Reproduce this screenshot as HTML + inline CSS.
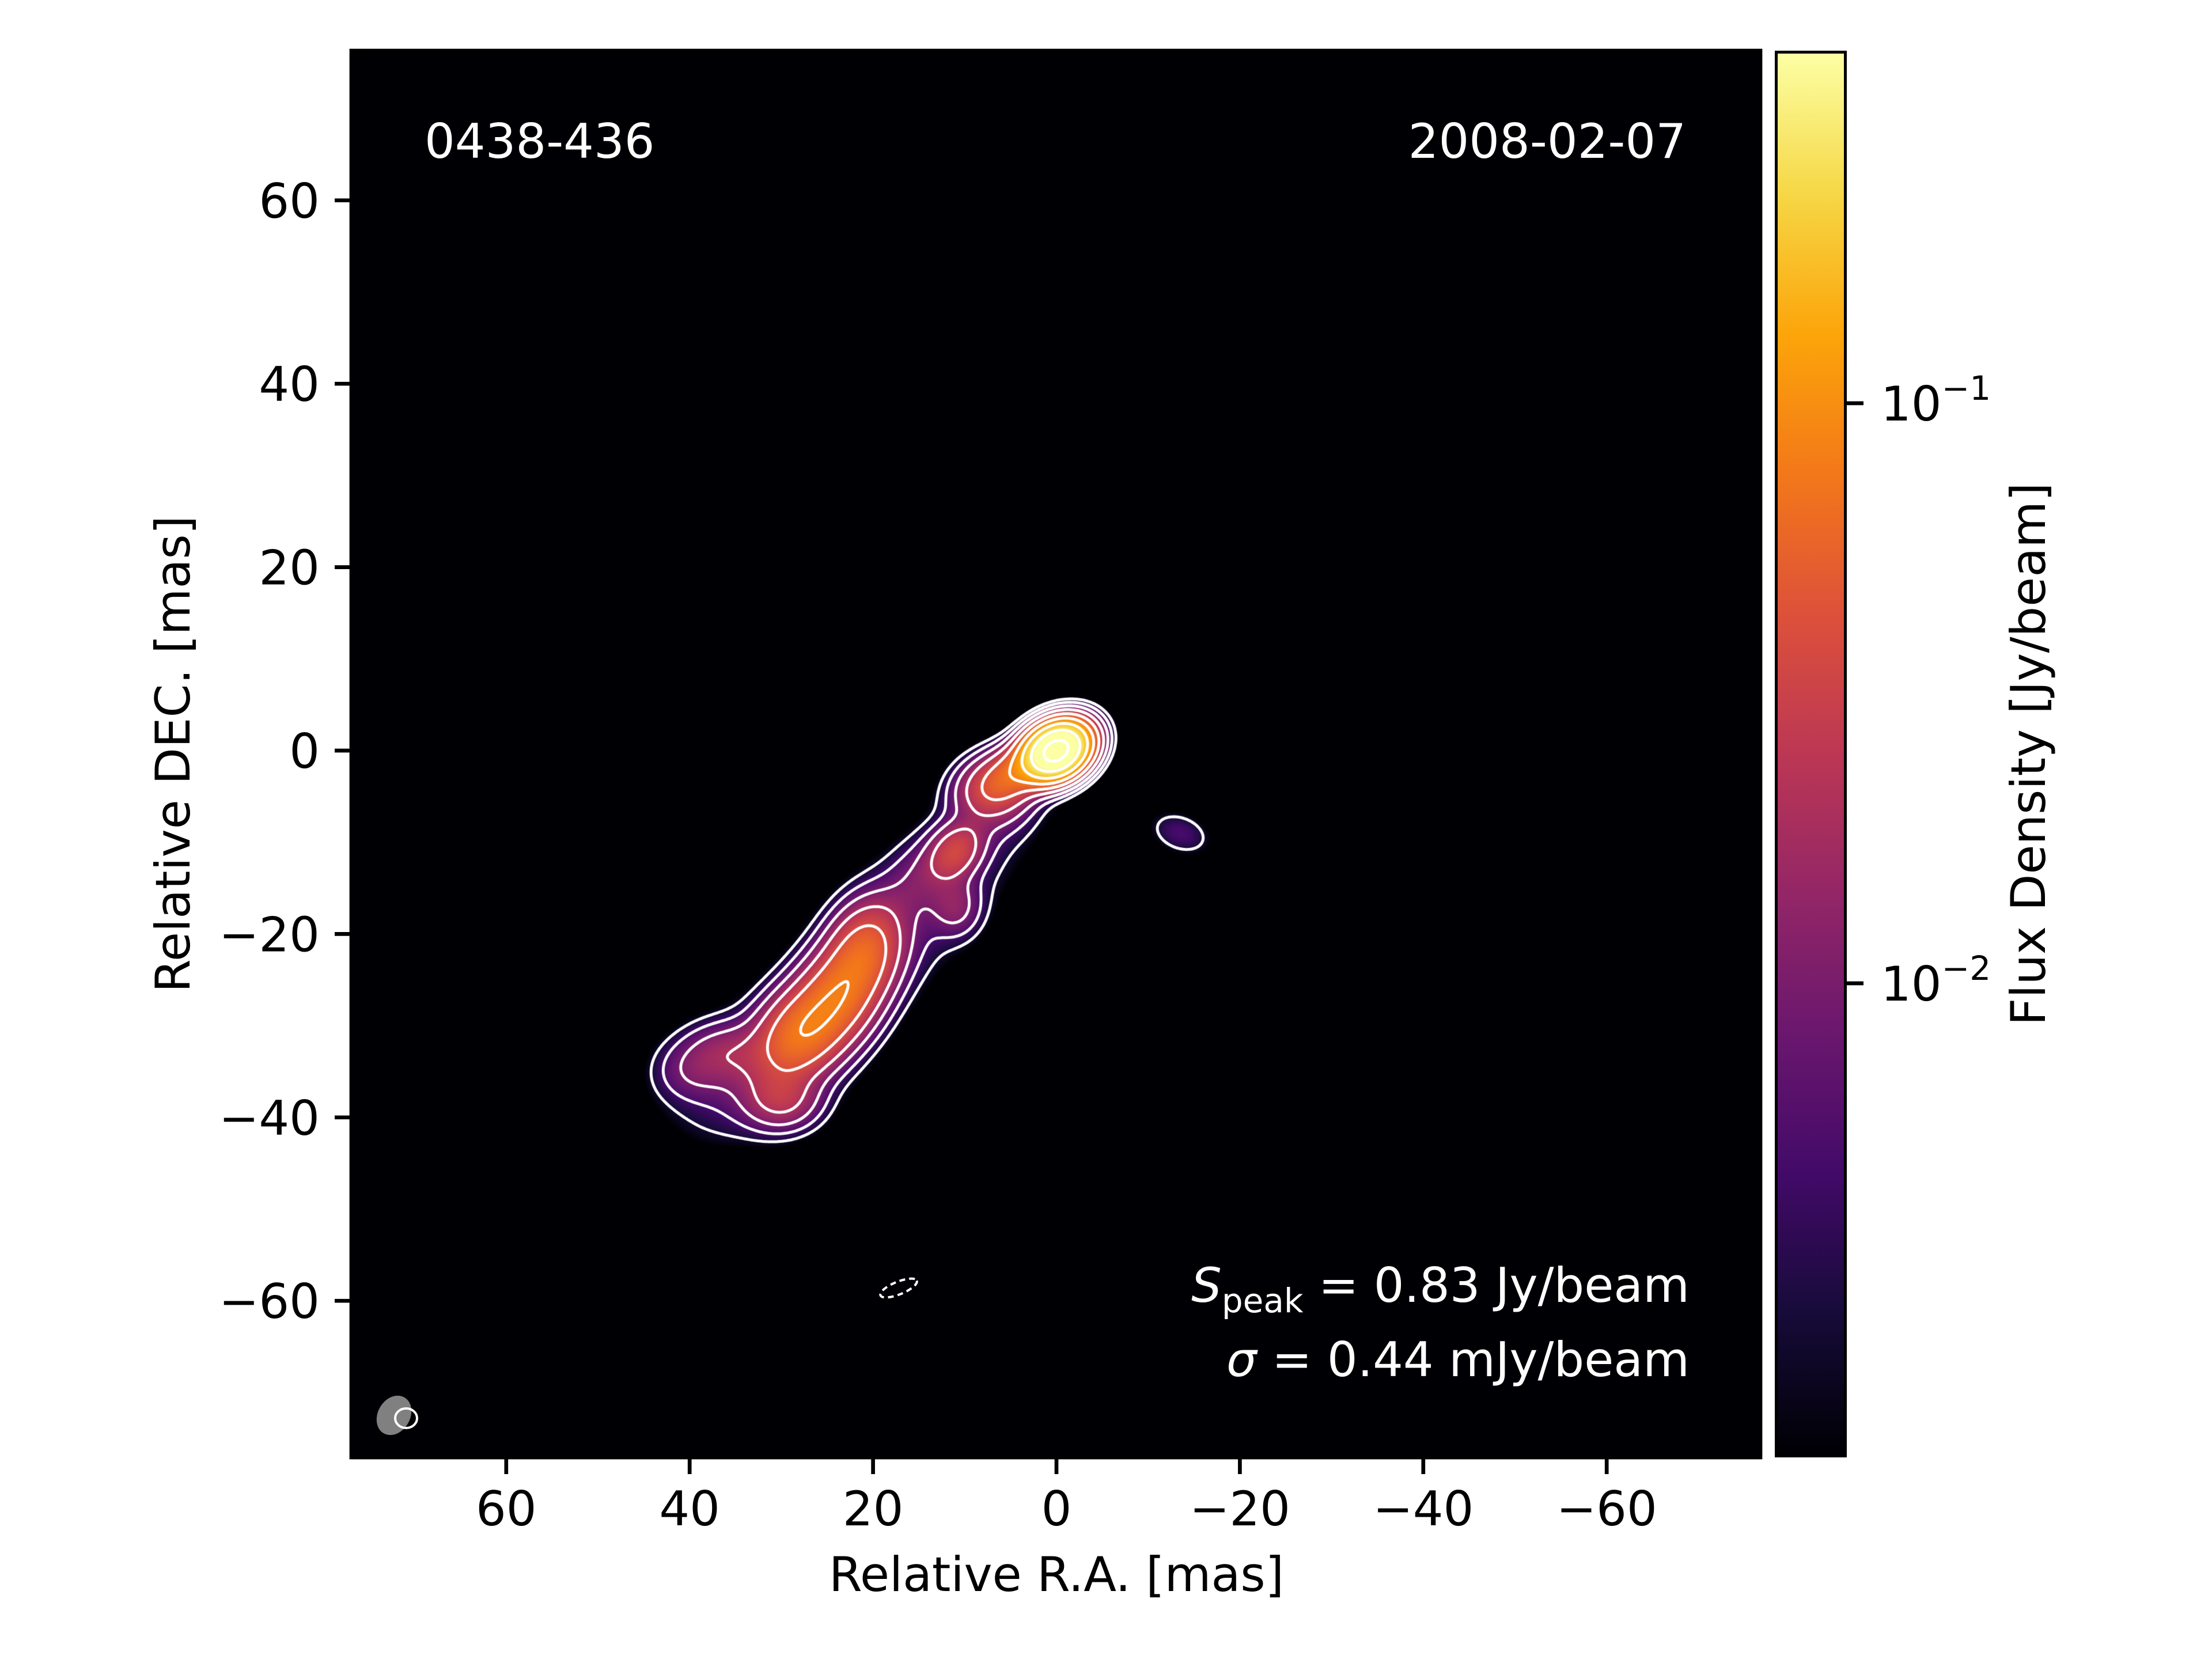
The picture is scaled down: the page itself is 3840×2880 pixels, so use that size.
<!DOCTYPE html>
<html><head><meta charset="utf-8">
<style>
html,body{margin:0;padding:0;background:#fff;}
#root{position:relative;width:3840px;height:2880px;overflow:hidden;background:#fff;font-family:"DejaVu Sans","Liberation Sans",sans-serif;}
canvas{position:absolute;}
svg{position:absolute;left:0;top:0;}
</style></head>
<body>
<div id="root">
<canvas id="img" style="left:610px;top:88px;width:2446px;height:2442px;" width="1223" height="1221"></canvas>
<canvas id="cont" style="left:610px;top:88px;width:2446px;height:2442px;" width="2446" height="2442"></canvas>
<div style="position:absolute;left:3081px;top:88px;width:125px;height:2442px;background:linear-gradient(to top,#000004 0%,#160b39 10%,#420a68 20%,#6a176e 30%,#932667 40%,#bc3754 50%,#dd513a 60%,#f37819 70%,#fca50a 80%,#f6d746 90%,#fcffa4 100%);box-sizing:border-box;border:5px solid #000;"></div>
<svg id="axes" width="3840" height="2880"></svg>
</div>
<script>
// ---- data ----
const compX    = [0, 4, 7, 11, 11, 21, 24, 28, 36, 30, 18, 33, -13.5, 15, 6, 40];
const compY    = [0, -2, -4, -11, -17, -22, -27, -31, -33, -38, -20, -35, -9, -14, -6, -35];
const compFlux = [0.80, 0.05, 0.03, 0.03, 0.01, 0.05, 0.055, 0.06, 0.012, 0.02, 0.006, 0.006, 0.005, 0.006, 0.006, 0.006];
const compMaj  = [2.0, 2.5, 2.5, 2.2, 2.0, 3.3, 3.3, 3.3, 3.0, 2.5, 14, 6, 2.2, 3, 2.5, 2.5];
const compMin  = [1.5, 1.6, 2.0, 1.6, 1.7, 2.3, 2.5, 2.5, 2.0, 2.0, 4, 4, 1.4, 2, 2, 2];
const compPA   = [120, 120, 110, 140, 0, 160, 150, 140, 90, 90, 137, 110, 70, 140, 130, 90];
const xTicks = [60, 40, 20, 0, -20, -40, -60];
const yTicks = [60, 40, 20, 0, -20, -40, -60];
const cbTicks = [0.1, 0.01];
const cbTickLabels = ["−1", "−2"];
const contourLevels = [0.0025, 0.005, 0.01, 0.02, 0.04, 0.08, 0.16, 0.32, 0.64];
const vmin = 0.00152, vmax = 0.405;

// ---- geometry ----
const PL = 610, PR = 3056, PT = 88, PB = 2530;
const X0 = 1834, Y0 = 1303, S = 15.92;
function xs(x){ return X0 - S * x; }
function ys(y){ return Y0 - S * y; }
function cbY(v){ return 700 + (Math.log10(0.1) - Math.log10(v)) * 1007; }

const inferno = [[0,0,4],[22,11,57],[66,10,104],[106,23,110],[147,38,103],[188,55,84],[221,81,58],[243,120,25],[252,165,10],[246,215,70],[252,255,164]];
function cmap(t){
  t = Math.max(0, Math.min(1, t)) * 10;
  const i = Math.min(9, Math.floor(t)), f = t - i;
  const a = inferno[i], b = inferno[i+1];
  return [a[0]+(b[0]-a[0])*f, a[1]+(b[1]-a[1])*f, a[2]+(b[2]-a[2])*f];
}
function field(x, y){
  let s = 0;
  for (let k = 0; k < compX.length; k++){
    const pa = compPA[k] * Math.PI / 180;
    const dx = x - compX[k], dy = y - compY[k];
    const u = dx * Math.sin(pa) + dy * Math.cos(pa);
    const v = dx * Math.cos(pa) - dy * Math.sin(pa);
    const e = (u*u)/(2*compMaj[k]*compMaj[k]) + (v*v)/(2*compMin[k]*compMin[k]);
    if (e < 30) s += compFlux[k] * Math.exp(-e);
  }
  return s;
}

// ---- image ----
(function(){
  const c = document.getElementById('img'), ctx = c.getContext('2d');
  const W = c.width, H = c.height, id = ctx.createImageData(W, H);
  const lmin = Math.log10(vmin), lmax = Math.log10(vmax);
  for (let j = 0; j < H; j++){
    const py = PT + (j + 0.5) * 2, y = (Y0 - py) / S;
    for (let i = 0; i < W; i++){
      const px = PL + (i + 0.5) * 2, x = (X0 - px) / S;
      let v = field(x, y);
      let t = v <= vmin ? 0 : (Math.log10(v) - lmin) / (lmax - lmin);
      const col = cmap(t), o = (j*W + i) * 4;
      id.data[o] = col[0]; id.data[o+1] = col[1]; id.data[o+2] = col[2]; id.data[o+3] = 255;
    }
  }
  ctx.putImageData(id, 0, 0);
})();

// ---- contours (marching squares) ----
(function(){
  const c = document.getElementById('cont'), ctx = c.getContext('2d');
  const xa = -25, xb = 50, ya = -50, yb = 12, h = 0.2;
  const nx = Math.round((xb - xa)/h) + 1, ny = Math.round((yb - ya)/h) + 1;
  const g = new Float64Array(nx*ny);
  for (let j = 0; j < ny; j++) for (let i = 0; i < nx; i++) g[j*nx+i] = field(xa + i*h, ya + j*h);
  ctx.strokeStyle = '#fff'; ctx.lineWidth = 5; ctx.lineCap = 'round';
  function P(x, y){ return [xs(x) - PL, ys(y) - PT]; }
  for (const L of contourLevels){
    ctx.beginPath();
    for (let j = 0; j < ny-1; j++) for (let i = 0; i < nx-1; i++){
      const a = g[j*nx+i], b = g[j*nx+i+1], cc = g[(j+1)*nx+i+1], d = g[(j+1)*nx+i];
      const idx = (a>L?1:0) | (b>L?2:0) | (cc>L?4:0) | (d>L?8:0);
      if (idx === 0 || idx === 15) continue;
      const x = xa + i*h, y = ya + j*h;
      const E0 = () => P(x + h*(L-a)/(b-a), y);
      const E1 = () => P(x + h, y + h*(L-b)/(cc-b));
      const E2 = () => P(x + h*(L-d)/(cc-d), y + h);
      const E3 = () => P(x, y + h*(L-a)/(d-a));
      const segs = {1:[[E3,E0]],2:[[E0,E1]],3:[[E3,E1]],4:[[E1,E2]],5:[[E3,E0],[E1,E2]],6:[[E0,E2]],7:[[E3,E2]],
        8:[[E2,E3]],9:[[E0,E2]],10:[[E0,E1],[E2,E3]],11:[[E1,E2]],12:[[E1,E3]],13:[[E0,E1]],14:[[E0,E3]]}[idx];
      for (const s of segs){ const p = s[0](), q = s[1](); ctx.moveTo(p[0], p[1]); ctx.lineTo(q[0], q[1]); }
    }
    ctx.stroke();
  }
})();

// ---- axes / text ----
(function(){
  const svg = document.getElementById('axes'), NS = 'http://www.w3.org/2000/svg';
  function mk(tag, attrs, text){
    const e = document.createElementNS(NS, tag);
    for (const k in attrs) e.setAttribute(k, attrs[k]);
    if (text !== undefined) e.textContent = text;
    svg.appendChild(e); return e;
  }
  let e;
  e = mk('rect', {x:PL, y:PT, width:PR-PL, height:PB-PT, fill:'none', stroke:'#000', 'stroke-width':6.7});
  
  
  e = mk('ellipse', {cx:684, cy:2457, rx:36, ry:28, fill:'#808080', transform:'rotate(-60 684 2457)'});
  
  
  e = mk('ellipse', {cx:705, cy:2462, rx:19, ry:17, fill:'none', stroke:'#fff', 'stroke-width':4});
  
  
  e = mk('ellipse', {cx:1560, cy:2236, rx:34, ry:11, fill:'none', stroke:'#fff', 'stroke-width':4, 'stroke-dasharray':'10 7', transform:'rotate(-22 1560 2236)'});
  
  
  for (const t of xTicks){
    const x = xs(t);
    e = mk('line', {x1:x, x2:x, y1:PB, y2:PB+29, stroke:'#000', 'stroke-width':6.7});
    
    
    e = mk('text', {x:x, y:PB+118, 'font-size':83, 'text-anchor':'middle', fill:'#000'}, (t < 0 ? '−' + (-t) : '' + t));
    
    
  }
  for (const t of yTicks){
    const y = ys(t);
    e = mk('line', {x1:PL-29, x2:PL, y1:y, y2:y, stroke:'#000', 'stroke-width':6.7});
    
    
    e = mk('text', {x:PL-55, y:y+30, 'font-size':83, 'text-anchor':'end', fill:'#000'}, (t < 0 ? '−' + (-t) : '' + t));
    
    
  }
  cbTicks.forEach((v, k) => {
    const y = cbY(v);
    e = mk('line', {x1:3206, x2:3235, y1:y, y2:y, stroke:'#000', 'stroke-width':6.7});
    
    
    e = mk('text', {x:3265, y:y+30, 'font-size':83, fill:'#000'});
    
    
    const t1 = document.createElementNS(NS, 'tspan'); t1.textContent = '10'; e.appendChild(t1);
    const t2 = document.createElementNS(NS, 'tspan'); t2.textContent = cbTickLabels[k];
    t2.setAttribute('font-size', 58); t2.setAttribute('dy', -36); e.appendChild(t2);
  });
  e = mk('text', {x:1834, y:2762, 'font-size':83, 'text-anchor':'middle', fill:'#000'}, 'Relative R.A. [mas]');
  
  
  e = mk('text', {x:0, y:0, 'font-size':83, 'text-anchor':'middle', fill:'#000', transform:'translate(329 1309) rotate(-90)'}, 'Relative DEC. [mas]');
  
  
  e = mk('text', {x:0, y:0, 'font-size':83, 'text-anchor':'middle', fill:'#000', transform:'translate(3550 1309) rotate(-90)'}, 'Flux Density [Jy/beam]');
  
  
  e = mk('text', {x:737, y:274, 'font-size':83, fill:'#fff'}, '0438-436');
  
  
  e = mk('text', {x:2927, y:274, 'font-size':83, 'text-anchor':'end', fill:'#fff'}, '2008-02-07');
  
  
  e = mk('text', {x:2933, y:2260, 'font-size':83, 'text-anchor':'end', fill:'#fff'});
  
  
  e.innerHTML = '<tspan font-style="italic">S</tspan><tspan font-size="58" dy="18">peak</tspan><tspan dy="-18"> = 0.83 Jy/beam</tspan>';
  e = mk('text', {x:2933, y:2389, 'font-size':83, 'text-anchor':'end', fill:'#fff'});
  
  
  e.innerHTML = '<tspan font-style="italic">σ</tspan> = 0.44 mJy/beam';
})();
</script>
</body></html>
